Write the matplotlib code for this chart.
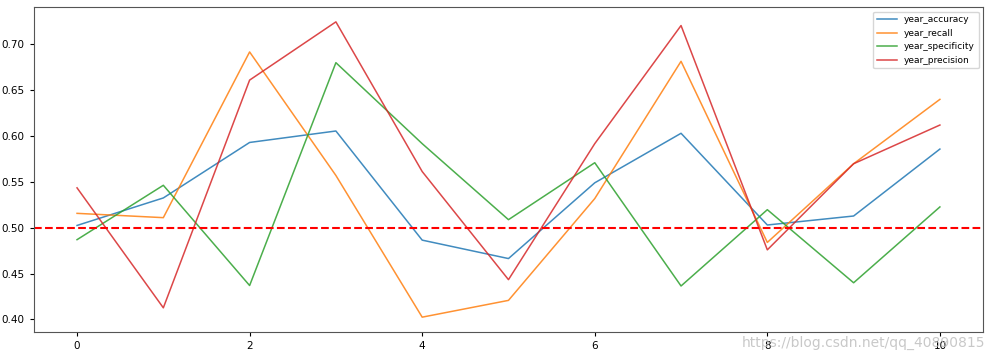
import matplotlib
matplotlib.use("Agg")
import matplotlib.pyplot as plt

years = list(range(11))
year_accuracy = [0.5025, 0.5325, 0.593, 0.6055, 0.4865, 0.4664, 0.549, 0.603, 0.503, 0.5128, 0.5858]
year_recall = [0.5157, 0.511, 0.6917, 0.557, 0.4025, 0.4208, 0.5318, 0.6815, 0.484, 0.5698, 0.640]
year_specificity = [0.487, 0.5463, 0.437, 0.680, 0.5917, 0.5088, 0.5709, 0.4365, 0.5197, 0.440, 0.5227]
year_precision = [0.5435, 0.4127, 0.661, 0.7245, 0.5613, 0.4434, 0.5917, 0.7205, 0.4759, 0.5698, 0.612]

fig = plt.figure(figsize=(9.97, 3.55), dpi=100)
ax = fig.add_axes([0.034, 0.065, 0.952, 0.915])

ax.plot(years, year_accuracy, label="year_accuracy", lw=1.1, alpha=0.85)
ax.plot(years, year_recall, label="year_recall", lw=1.1, alpha=0.85)
ax.plot(years, year_specificity, label="year_specificity", lw=1.1, alpha=0.85)
ax.plot(years, year_precision, label="year_precision", lw=1.1, alpha=0.85)
ax.axhline(0.5, color="red", linestyle="--", lw=1.5)

ax.tick_params(labelsize=7.5, length=3)
ax.legend(loc="upper right", fontsize=6.5, handlelength=2.2)
for s in ax.spines.values():
    s.set_color("#555555")

# watermark
fig.text(0.988, 0.022, "https://blog.csdn.net/qq_40890815", fontsize=10,
         color="#bbbbbb", alpha=0.8, ha="right")

fig.savefig("out.png", dpi=100)
